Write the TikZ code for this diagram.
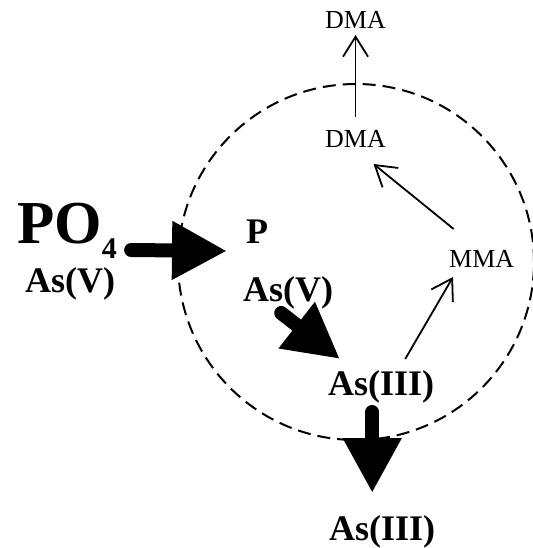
\documentclass[tikz,border=0pt]{standalone}
\usepackage{fontspec}
\setmainfont{Liberation Serif}
\usetikzlibrary{arrows.meta}

\begin{document}
\begin{tikzpicture}[x=1pt,y=-1pt,
lbl/.style={inner sep=0pt,anchor=base west},
big/.style={font=\bfseries\fontsize{36}{36}\selectfont},
small/.style={font=\fontsize{26}{26}\selectfont},
fatarrow/.style={line width=14pt,line cap=round,-{Triangle[length=55pt,width=55pt]}},
thinarrow/.style={line width=1.8pt,-{Straight Barb[length=20pt,width=25pt]}}]

\useasboundingbox (0,0) rectangle (532,548);

\draw[line width=2pt,dash pattern=on 13pt off 7pt] (356,262) circle (178pt);

\node[lbl,font=\bfseries\fontsize{61}{61}\selectfont] (po) at (17,243) {PO\raisebox{-15pt}{\fontsize{30}{30}\selectfont 4}};
\node[lbl,big] (asVout) at (25,292) {As(V)};
\node[lbl,big] (pIn) at (246,243) {P};
\node[lbl,big] (asVin) at (243,301) {As(V)};
\node[lbl,big] (asIIIin) at (328,395) {As(III)};
\node[lbl,big] (asIIIout) at (329,540) {As(III)};
\node[lbl,small] (mma) at (449,267) {MMA};
\node[lbl,small] (dmaIn) at (325,148) {DMA};
\node[lbl,small] (dmaOut) at (325,29) {DMA};

\draw[fatarrow] ([xshift=14pt,yshift=-7pt]po.base east) -- ([xshift=-19pt,yshift=-8pt]pIn.base west);
\draw[fatarrow] ([xshift=-7pt,yshift=-12pt]asVin.base) -- ([xshift=12pt,yshift=36pt]asIIIin.base west);
\draw[fatarrow] ([xshift=-9pt,yshift=-17pt]asIIIin.base) -- ([xshift=-10pt,yshift=47pt]asIIIout.base);

\draw[thinarrow] ([xshift=24pt,yshift=36pt]asIIIin.base) -- ([xshift=4pt,yshift=-10pt]mma.base west);
\draw[thinarrow] ([xshift=-28pt,yshift=38pt]mma.base) -- ([xshift=18pt,yshift=-16pt]dmaIn.base);
\draw[thinarrow] ([yshift=31pt]dmaIn.base) -- ([yshift=-6pt]dmaOut.base);

\end{tikzpicture}
\end{document}
